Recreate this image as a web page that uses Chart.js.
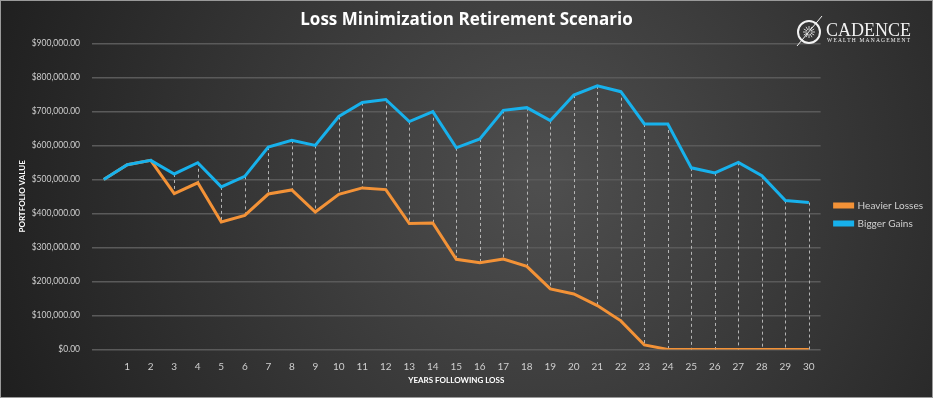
<!DOCTYPE html>
<html>
<head>
<meta charset="utf-8">
<script src="https://cdn.jsdelivr.net/npm/chart.js@4"></script>
<style>
  html, body { margin: 0; padding: 0; background: #222; }
  #wrap { width: 933px; height: 398px; }
</style>
</head>
<body>
<div id="wrap"><canvas id="lossChart" width="933" height="398"></canvas></div>
<script>
const years = ['', '1', '2', '3', '4', '5', '6', '7', '8', '9', '10', '11', '12', '13', '14', '15',
  '16', '17', '18', '19', '20', '21', '22', '23', '24', '25', '26', '27', '28', '29', '30'];

const heavierLosses = [500000, 543000, 556000, 458000, 490000, 375000, 394000, 457000, 469000, 404000,
  456000, 475000, 470000, 370000, 372000, 265000, 255000, 266000, 244000, 178000,
  163000, 129000, 84000, 13000, 0, 0, 0, 0, 0, 0, 0];

const biggerGains = [500000, 543000, 556000, 516000, 549000, 478000, 509000, 595000, 615000, 600000,
  685000, 726000, 735000, 670000, 699000, 593000, 619000, 703000, 711000, 673000,
  748000, 775000, 758000, 663000, 663000, 534000, 519000, 550000, 511000, 438000, 432000];

const FONT = "Lato, 'Open Sans', sans-serif";

// dark radial background + frame
const backdrop = {
  id: "backdrop",
  beforeDraw(chart) {
    const { ctx, width, height } = chart;
    ctx.save();
    const g = ctx.createRadialGradient(width * 0.58, height * 0.45, 10, width * 0.58, height * 0.45, width * 0.62);
    g.addColorStop(0, "#4e4e4e");
    g.addColorStop(1, "#1f1f1f");
    ctx.fillStyle = g;
    ctx.fillRect(0, 0, width, height);
    ctx.strokeStyle = "#9a9a9a";
    ctx.lineWidth = 1;
    ctx.strokeRect(0.5, 0.5, width - 1, height - 1);
    ctx.restore();
  }
};

// dashed high-low lines between the two series
const dropLines = {
  id: "dropLines",
  beforeDatasetsDraw(chart) {
    const { ctx, scales: { x, y } } = chart;
    ctx.save();
    ctx.strokeStyle = "#b5b5b5";
    ctx.lineWidth = 1;
    ctx.setLineDash([3, 3]);
    heavierLosses.forEach((v, i) => {
      const hi = Math.max(v, biggerGains[i]);
      const lo = Math.min(v, biggerGains[i]);
      if (hi === lo) return;
      const px = Math.round(x.getPixelForValue(i)) + 0.5;
      ctx.beginPath();
      ctx.moveTo(px, y.getPixelForValue(hi));
      ctx.lineTo(px, y.getPixelForValue(lo));
      ctx.stroke();
    });
    ctx.restore();
  }
};

// push the legend down a little, like the original
const legendNudge = {
  id: "legendNudge",
  afterLayout(chart) {
    chart.legend.top += 15;
    chart.legend.bottom += 15;
  }
};

// rotated y-axis caption + company mark
const extras = {
  id: "extras",
  afterDraw(chart) {
    const { ctx, chartArea } = chart;
    ctx.save();
    ctx.translate(22, (chartArea.top + chartArea.bottom) / 2);
    ctx.rotate(-Math.PI / 2);
    ctx.fillStyle = "#ffffff";
    ctx.font = "bold 8px " + FONT;
    ctx.textAlign = "center";
    ctx.textBaseline = "middle";
    ctx.fillText("PORTFOLIO VALUE", 0, 0);
    ctx.restore();

    ctx.save();
    ctx.strokeStyle = "#f2f2f2";
    ctx.lineWidth = 2;
    ctx.beginPath();
    ctx.arc(809, 32, 11, 0, Math.PI * 2);
    ctx.stroke();
    ctx.lineWidth = 1;
    ctx.strokeStyle = "#cfcfcf";
    for (let a = 0; a < 12; a++) {
      const t = a * Math.PI / 6;
      ctx.beginPath();
      ctx.moveTo(809 + Math.cos(t) * 2, 32 + Math.sin(t) * 2);
      ctx.lineTo(809 + Math.cos(t) * 6, 32 + Math.sin(t) * 6);
      ctx.stroke();
    }
    ctx.strokeStyle = "#f2f2f2";
    ctx.beginPath();
    ctx.moveTo(797, 46);
    ctx.lineTo(822, 16);
    ctx.stroke();
    ctx.fillStyle = "#f2f2f2";
    ctx.font = "18px 'Liberation Serif', 'DejaVu Serif', serif";
    ctx.textBaseline = "alphabetic";
    ctx.fillText("CADENCE", 826, 36);
    ctx.font = "5.5px 'Liberation Serif', 'DejaVu Serif', serif";
    if ("letterSpacing" in ctx) ctx.letterSpacing = "1.2px";
    ctx.fillText("WEALTH MANAGEMENT", 827, 42);
    ctx.restore();
  }
};

new Chart(document.getElementById("lossChart"), {
  type: "line",
  data: {
    labels: years,
    datasets: [{
      label: "Heavier Losses",
      data: heavierLosses,
      borderColor: "#f39237",
      backgroundColor: "#f39237",
      borderWidth: 3,
      pointRadius: 0,
      tension: 0,
      order: 1
    }, {
      label: "Bigger Gains",
      data: biggerGains,
      borderColor: "#17b1ec",
      backgroundColor: "#17b1ec",
      borderWidth: 3,
      pointRadius: 0,
      tension: 0,
      order: 0
    }]
  },
  options: {
    responsive: false,
    animation: false,
    layout: { padding: { top: 10, right: 0, bottom: 9, left: 0 } },
    plugins: {
      title: {
        display: true,
        text: "Loss Minimization Retirement Scenario",
        color: "#ffffff",
        font: { family: "'Open Sans', Lato, sans-serif", size: 17, weight: "bold" },
        padding: { top: 0, bottom: 13 }
      },
      legend: {
        position: "right",
        labels: {
          color: "#d0d0d0",
          font: { family: FONT, size: 10 },
          boxWidth: 18,
          boxHeight: 3,
          padding: 8,
          sort: (a, b) => a.datasetIndex - b.datasetIndex
        }
      },
      tooltip: { enabled: false }
    },
    scales: {
      x: {
        offset: true,
        grid: { display: false },
        border: { display: false },
        ticks: { color: "#cfcfcf", font: { family: FONT, size: 10 }, maxRotation: 0, autoSkip: false },
        title: {
          display: true,
          text: "YEARS FOLLOWING LOSS",
          color: "#ffffff",
          font: { family: FONT, size: 8, weight: "bold" },
          padding: { top: 0 }
        }
      },
      y: {
        min: 0,
        max: 900000,
        grid: { color: "#5a5a5a", lineWidth: 1.5, drawTicks: false },
        border: { display: false },
        afterFit: s => { s.width = 92; },
        ticks: {
          stepSize: 100000,
          color: "#cfcfcf",
          padding: 12,
          font: { family: FONT, size: 8.5 },
          callback: v => "$" + v.toLocaleString("en-US", { minimumFractionDigits: 2, maximumFractionDigits: 2 })
        }
      },
      gap: {
        type: "linear",
        position: "right",
        display: true,
        grid: { display: false },
        border: { display: false },
        ticks: { display: false },
        afterFit: s => { s.width = 6; }
      }
    }
  },
  plugins: [backdrop, dropLines, legendNudge, extras]
});
</script>
</body>
</html>
